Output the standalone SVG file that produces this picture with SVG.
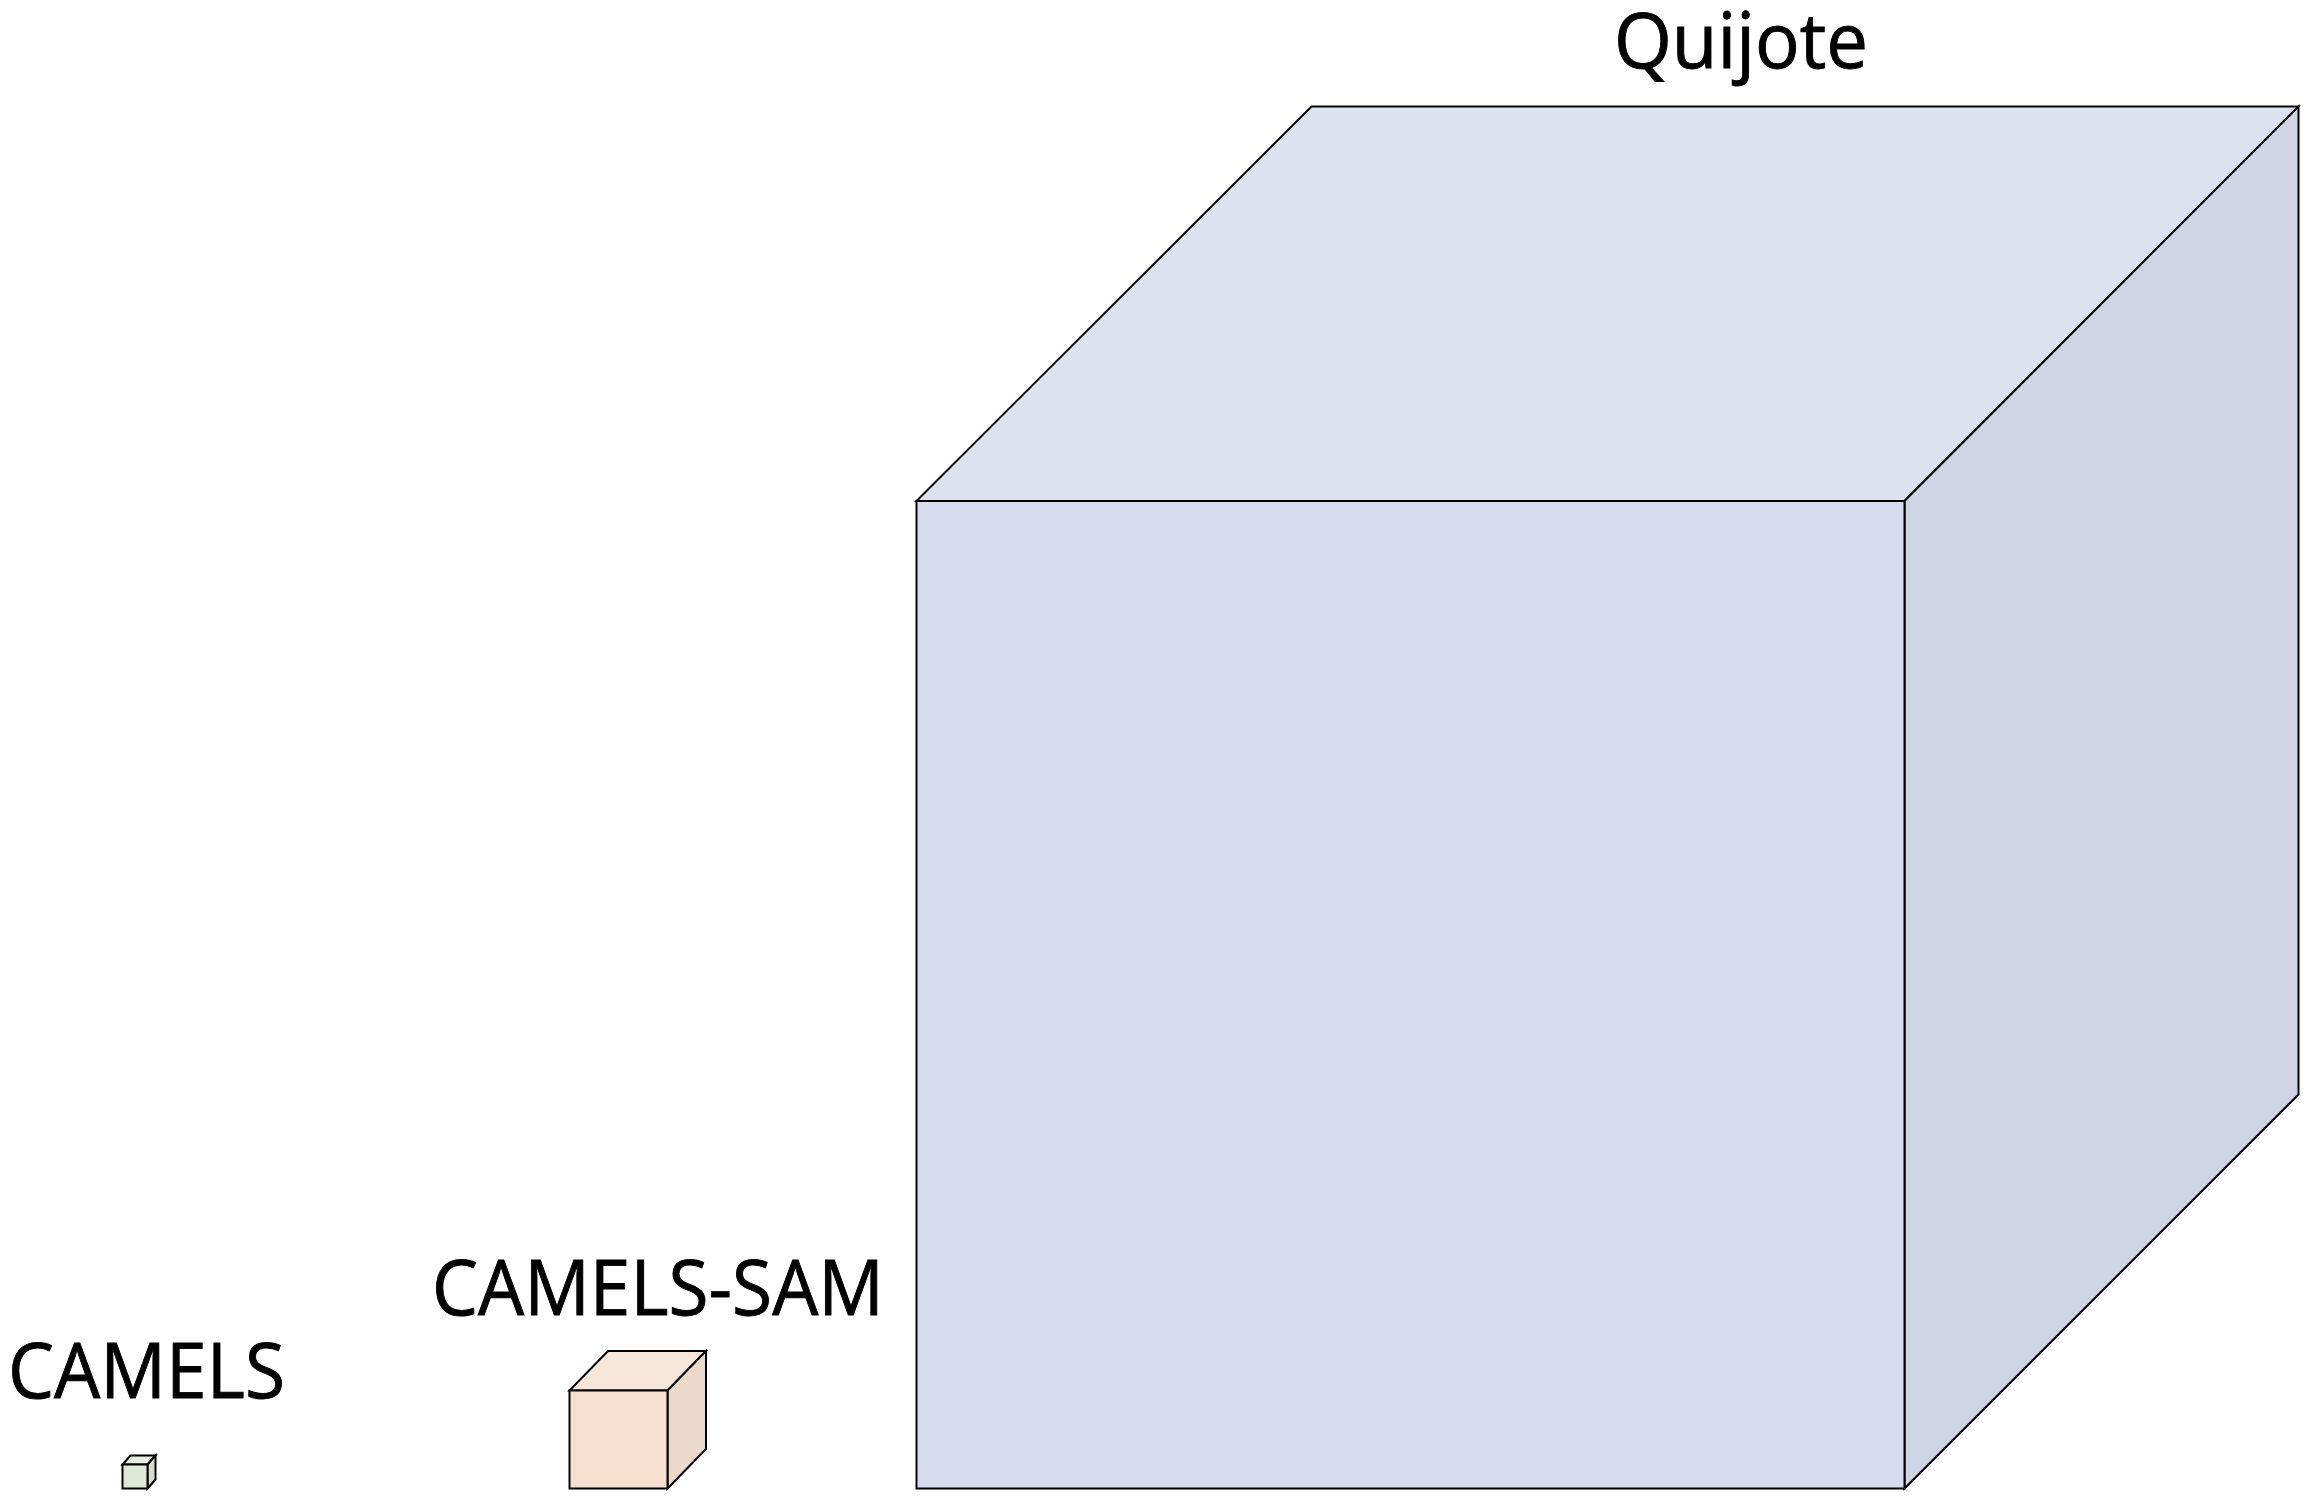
<svg xmlns="http://www.w3.org/2000/svg" width="2310" height="1504" viewBox="0 0 2310 1504">
<style>
.edge{stroke:#000;stroke-width:2;stroke-linejoin:miter}
.lbl{font-family:"Open Sans","Liberation Sans",sans-serif;fill:#000;stroke:#000;stroke-width:0.9}
</style>
<rect x="0" y="0" width="2310" height="1504" fill="#fff"/>
<g id="quijote">
<polygon class="edge" points="916.5,501 1311.5,106.5 2298.5,106.5 1904.5,501" fill="#DCE2F0"/>
<polygon class="edge" points="1904.5,501 2298.5,106.5 2298.5,1094.5 1904.5,1488.5" fill="#CFD5E5"/>
<rect class="edge" x="916.5" y="501" width="988" height="987.5" fill="#D4DCEE"/>
<text class="lbl" x="1614" y="68" font-size="76" textLength="254" lengthAdjust="spacingAndGlyphs">Quijote</text>
</g>
<g id="camels-sam">
<polygon class="edge" points="569.5,1390.5 608,1351 706,1351 667.5,1390.5" fill="#F7E6DA"/>
<polygon class="edge" points="667.5,1390.5 706,1351 706,1449 667.5,1488.5" fill="#EBDACB"/>
<rect class="edge" x="569.5" y="1390.5" width="98" height="98" fill="#F7DFCF"/>
<text class="lbl" x="432" y="1315" font-size="76" textLength="452" lengthAdjust="spacingAndGlyphs">CAMELS-SAM</text>
</g>
<g id="camels">
<polygon class="edge" points="122.5,1464.5 130.5,1455.5 155.5,1455.5 147.5,1464.5" fill="#E6EEDF"/>
<polygon class="edge" points="147.5,1464.5 155.5,1455.5 155.5,1479.5 147.5,1488.5" fill="#D6DECE"/>
<rect class="edge" x="122.5" y="1464.5" width="25" height="24" fill="#DEE8D6"/>
<text class="lbl" x="8" y="1398" font-size="76" textLength="277" lengthAdjust="spacingAndGlyphs">CAMELS</text>
</g>
<g id="connectors"/>
</svg>
